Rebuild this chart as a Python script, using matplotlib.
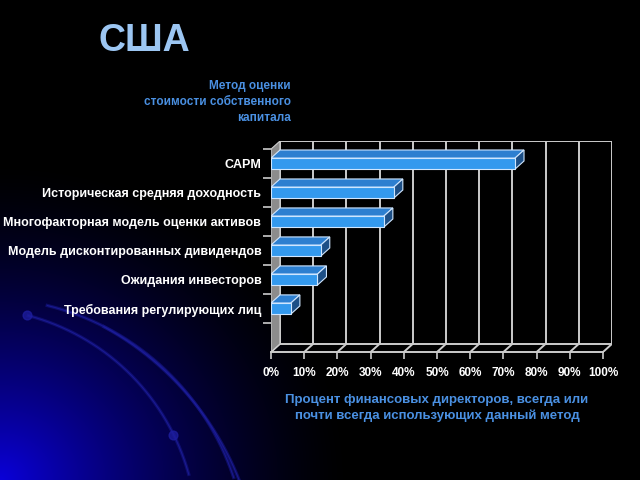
import matplotlib
matplotlib.use("Agg")
import matplotlib.pyplot as plt
from matplotlib.patches import Polygon
import numpy as np

plt.rcParams['font.family'] = ['Liberation Sans', 'DejaVu Sans']
plt.rcParams['font.weight'] = 'bold'

# ----- data -----
methods = ['CAPM',
           'Историческая средняя доходность',
           'Многофакторная модель оценки активов',
           'Модель дисконтированных дивидендов',
           'Ожидания инвесторов',
           'Требования регулирующих лиц']
share = [73.5, 37.0, 34.0, 15.0, 14.0, 6.0]   # % of CFOs
xticks = [0, 10, 20, 30, 40, 50, 60, 70, 80, 90, 100]
xticklabels = ['%d%%' % v for v in xticks]

title = 'США'
ytitle = 'Метод оценки\nстоимости собственного\nкапитала'
xtitle = 'Процент финансовых директоров, всегда или\nпочти всегда использующих данный метод'

# ----- 3d look -----
n_slots = 7          # one empty slot below the last bar
DX = 2.7             # depth offset in x units
DY = 0.28            # depth offset in slot units
BAR_H = 0.38
FRONT = '#3399ee'
TOP = '#2d7fd0'
SIDE = '#1d4f86'
GRID = '#cccccc'
WALL = '#8c8c8c'

fig = plt.figure(figsize=(6.4, 4.8), dpi=100, facecolor='black')

# ----- background: blue glow and swirls -----
bg = fig.add_axes([0, 0, 1, 1])
bg.set_xlim(0, 640)
bg.set_ylim(480, 0)
bg.axis('off')
yy, xx = np.mgrid[0:480, 0:640]
d = np.sqrt((xx / 1.1) ** 2 + (480 - yy) ** 2)
glow = np.clip(1 - d / 320, 0, 1) ** 1.5
img = np.zeros((480, 640, 3))
img[..., 2] = 0.85 * glow
img[..., 0] = 0.04 * glow
bg.imshow(img, extent=(0, 640, 480, 0), aspect='auto', zorder=0)

# swirl arcs: centre x, centre y, radius, start/end angle
arcs = [(-30, 535, 227, 0.26, 1.30), (-15, 560, 262, 0.24, 1.25), (-40, 590, 300, 0.50, 1.20)]
for cx, cy, r, a0, a1 in arcs:
    t = np.linspace(a0, a1, 200)
    bg.plot(cx + r * np.sin(t), cy - r * np.cos(t), color='#161688', lw=2.4, alpha=0.6, zorder=1)
    bg.plot(cx + r * np.sin(t), cy - r * np.cos(t), color='#2222aa', lw=0.8, alpha=0.6, zorder=1)
bg.scatter([27, 173], [315, 435], s=40, color='#1e1ea0', alpha=0.75, zorder=2)

# ----- chart -----
ax = fig.add_axes([271 / 640, 1 - 352 / 480, 341 / 640, 211 / 480])
ax.set_facecolor('none')
ax.set_xlim(0, 100 + DX)
ax.set_ylim(0, n_slots + DY)
for s in ax.spines.values():
    s.set_visible(False)

# back wall gridlines and floor lines
for v in xticks:
    ax.plot([v + DX, v + DX], [DY, n_slots + DY], color=GRID, lw=1.4, zorder=1)
    ax.plot([v, v + DX], [0, DY], color=GRID, lw=1.4, zorder=1)
ax.plot([DX, 100 + DX], [DY, DY], color=GRID, lw=1.4, zorder=1)
ax.plot([DX, 100 + DX], [n_slots + DY] * 2, color=GRID, lw=1.4, zorder=1)
ax.plot([0, 100], [0, 0], color=GRID, lw=1.4, zorder=1, clip_on=False)

# left side wall
ax.add_patch(Polygon([(0, 0), (DX, DY), (DX, n_slots + DY), (0, n_slots)],
                     closed=True, facecolor=WALL, edgecolor='#d0d0d0', lw=0.8, zorder=2))

# bars
ypos = [n_slots - 0.5 - i for i in range(len(methods))]
ax.barh(ypos, share, height=BAR_H, color=FRONT, edgecolor='#cfe6ff', lw=0.8, zorder=4)
for y, v in zip(ypos, share):
    top = y + BAR_H / 2
    bot = y - BAR_H / 2
    ax.add_patch(Polygon([(0, top), (v, top), (v + DX, top + DY), (DX, top + DY)],
                         closed=True, facecolor=TOP, edgecolor='#cfe6ff', lw=0.8, zorder=3))
    ax.add_patch(Polygon([(v, bot), (v + DX, bot + DY), (v + DX, top + DY), (v, top)],
                         closed=True, facecolor=SIDE, edgecolor='#cfe6ff', lw=0.8, zorder=3))

# ticks and labels
ax.set_xticks(xticks)
ax.set_xticklabels(xticklabels, color='white', fontsize=8.5, fontweight='bold')
ax.tick_params(axis='x', colors=GRID, length=5, width=1.2, pad=6, labelcolor='white')
ax.set_yticks(range(1, n_slots + 1))
ax.set_yticklabels([])
ax.tick_params(axis='y', colors=GRID, length=6, width=1.2)
ax.set_yticks(ypos, minor=True)
ax.set_yticklabels(methods, minor=True, color='white', fontsize=9, fontweight='bold')
ax.tick_params(axis='y', which='minor', length=0, pad=7)

# titles
fig.text(99 / 640, 1 - 41 / 480, title, color='#9cc6f2', fontsize=27, fontweight='bold',
         ha='left', va='center')
fig.text(291 / 640, 1 - 102 / 480, ytitle, color='#4a90e2', fontsize=8.5, fontweight='bold',
         ha='right', va='center', linespacing=1.45)
fig.text(437 / 640, 1 - 408 / 480, xtitle, color='#4a90e2', fontsize=9.5, fontweight='bold',
         ha='center', va='center', linespacing=1.4)

fig.savefig('out.png', dpi=100, facecolor='black')
